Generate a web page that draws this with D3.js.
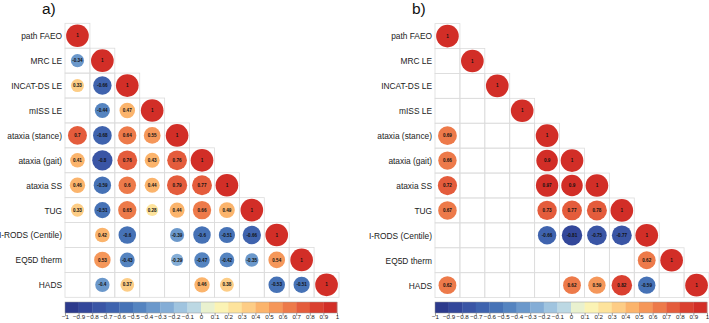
<!DOCTYPE html>
<html><head><meta charset="utf-8">
<script src="https://cdn.jsdelivr.net/npm/d3@7"></script>
<style>body{margin:0;background:#fff}svg{display:block}</style>
</head><body>
<script>
const variables = ["path FAEO","MRC LE","INCAT-DS LE","mISS LE","ataxia (stance)","ataxia (gait)","ataxia SS","TUG","I-RODS (Centile)","EQ5D therm","HADS"];
const panelTitles = ["a)","b)"];
const N = null;
const corrA = [
  [1],
  [-0.34, 1],
  [0.33, -0.66, 1],
  [N, -0.44, 0.47, 1],
  [0.7, -0.68, 0.64, 0.55, 1],
  [0.41, -0.8, 0.76, 0.43, 0.76, 1],
  [0.46, -0.59, 0.6, 0.44, 0.79, 0.77, 1],
  [0.33, -0.51, 0.65, 0.28, 0.44, 0.66, 0.49, 1],
  [N, 0.42, -0.6, N, -0.39, -0.6, -0.51, -0.66, 1],
  [N, 0.53, -0.43, N, -0.29, -0.47, -0.42, -0.35, 0.54, 1],
  [N, -0.4, 0.37, N, N, 0.46, 0.38, N, -0.53, -0.51, 1]
];
const corrB = [
  [1],
  [N, 1],
  [N, N, 1],
  [N, N, N, 1],
  [0.69, N, N, N, 1],
  [0.66, N, N, N, 0.9, 1],
  [0.72, N, N, N, 0.97, 0.9, 1],
  [0.67, N, N, N, 0.73, 0.77, 0.78, 1],
  [N, N, N, N, -0.66, -0.81, -0.75, -0.77, 1],
  [N, N, N, N, N, N, N, N, 0.62, 1],
  [0.62, N, N, N, N, 0.62, 0.59, 0.82, -0.59, N, 1]
];
const colorTicks = d3.range(-10, 11).map(d => d / 10);
const palette = ["#2d3a8c","#33479a","#3a55a5","#3f63ae","#4672b6","#5584c0","#6b98cb","#84add6","#a0c4df","#bcd8e3",
                 "#e9f1cf","#fbf3b4","#fde39c","#fdcd86","#fbb46c","#f5975a","#ed7a4a","#e45c3c","#da4030","#d22e27"];

const W = 709, H = 323;
const svg = d3.select("body").append("svg").attr("width", W).attr("height", H)
  .style("font-family", "'Liberation Sans', Arial, sans-serif");

const binColor = d3.scaleQuantize().domain([-1, 1]).range(palette);
const colorOf = v => v >= 1 ? palette[palette.length - 1] : binColor(v);

function panel(data, title, x0, x1, y0) {
  const g = svg.append("g");
  const n = variables.length;
  const band = d3.scaleBand().domain(d3.range(n)).range([x0, x1]);
  const bandY = d3.scaleBand().domain(d3.range(n)).range([y0, y0 + (x1 - x0)]);
  const cw = band.bandwidth();
  const rScale = d3.scaleSqrt().domain([0, 1]).range([0, cw * 0.455]);

  const cells = [];
  data.forEach((row, i) => row.forEach((v, j) => cells.push({i, j, v})));

  g.selectAll("rect.cell").data(cells).enter().append("rect")
    .attr("x", d => band(d.j)).attr("y", d => bandY(d.i))
    .attr("width", cw).attr("height", bandY.bandwidth())
    .attr("fill", "none").attr("stroke", "#dcdcdc").attr("stroke-width", 0.8);

  const filled = cells.filter(d => d.v !== null);
  g.selectAll("circle").data(filled).enter().append("circle")
    .attr("cx", d => band(d.j) + cw / 2).attr("cy", d => bandY(d.i) + bandY.bandwidth() / 2)
    .attr("r", d => rScale(Math.abs(d.v)))
    .attr("fill", d => colorOf(d.v));

  g.selectAll("text.val").data(filled).enter().append("text")
    .attr("x", d => band(d.j) + cw / 2).attr("y", d => bandY(d.i) + bandY.bandwidth() / 2 + 1.6)
    .attr("text-anchor", "middle").attr("font-size", 4.6).attr("font-weight", "bold").attr("fill", "#111")
    .text(d => String(d.v));

  g.selectAll("text.lab").data(variables).enter().append("text")
    .attr("transform", (d, i) => `translate(${x0 - 3},${bandY(i) + bandY.bandwidth() / 2 + 3.4}) scale(0.89,1)`)
    .attr("text-anchor", "end").attr("font-size", 9.4).attr("fill", "#222")
    .text(d => d);

  svg.append("text").attr("x", x0 - 23).attr("y", 13.5).attr("font-size", 15.5).attr("fill", "#111").text(title);

  // colorbar
  const cx = d3.scaleLinear().domain([-1, 1]).range([x0, x1 - 2]);
  const bins = d3.range(20).map(k => ({a: -1 + k / 10, b: -1 + (k + 1) / 10, c: palette[k]}));
  const cb = svg.append("g");
  cb.selectAll("rect").data(bins).enter().append("rect")
    .attr("x", d => cx(d.a)).attr("y", 302).attr("width", d => cx(d.b) - cx(d.a) + 0.3).attr("height", 11)
    .attr("fill", d => d.c);
  cb.append("rect").attr("x", cx(-1)).attr("y", 302).attr("width", cx(1) - cx(-1)).attr("height", 11)
    .attr("fill", "none").attr("stroke", "#999").attr("stroke-width", 0.5);
  const ax = d3.axisBottom(cx).tickValues(colorTicks).tickSize(3).tickFormat(d => d3.format("")(+d.toFixed(1)));
  const axg = cb.append("g").attr("transform", "translate(0,313)").call(ax);
  axg.select(".domain").remove();
  axg.selectAll("line").attr("stroke", "#444").attr("stroke-width", 0.5);
  axg.selectAll("text").attr("font-size", 6.2).attr("fill", "#222").attr("dy", "0.55em").attr("y", 3)
    .style("font-family", "'Liberation Sans', Arial, sans-serif");
}

panel(corrA, panelTitles[0], 65, 339, 23.3);
panel(corrB, panelTitles[1], 435, 709, 23.6);
</script>
</body></html>
